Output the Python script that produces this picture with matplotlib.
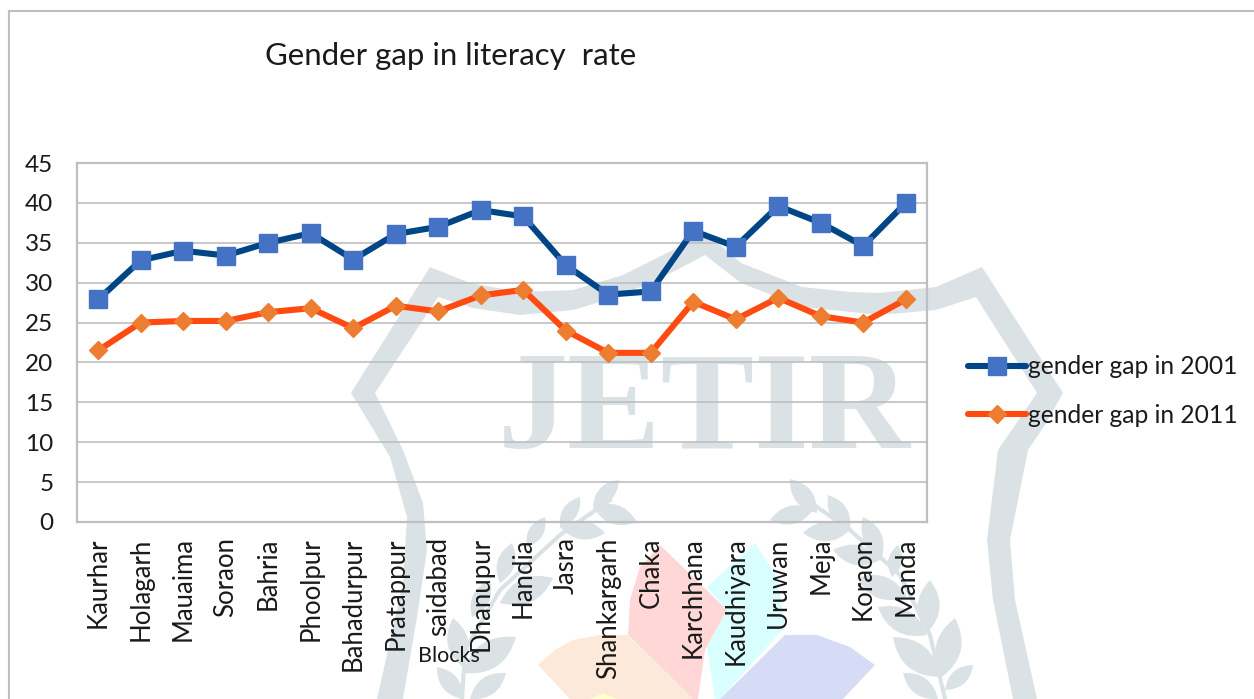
import matplotlib
matplotlib.use("Agg")
import matplotlib.pyplot as plt
from matplotlib.patches import Polygon, PathPatch
from matplotlib.path import Path as MPath

plt.rcParams["font.family"] = ["Lato", "DejaVu Sans"]

blocks = ["Kaurhar", "Holagarh", "Mauaima", "Soraon", "Bahria", "Phoolpur", "Bahadurpur",
          "Pratappur", "saidabad", "Dhanupur", "Handia", "Jasra", "Shankargarh", "Chaka",
          "Karchhana", "Kaudhiyara", "Uruwan", "Meja", "Koraon", "Manda"]
gap_2001 = [27.9, 32.8, 34.0, 33.4, 35.0, 36.2, 32.9, 36.1, 37.0, 39.1,
            38.3, 32.2, 28.5, 28.9, 36.5, 34.5, 39.6, 37.5, 34.6, 40.0]
gap_2011 = [21.5, 25.0, 25.2, 25.2, 26.3, 26.8, 24.3, 27.1, 26.4, 28.4,
            29.1, 24.0, 21.2, 21.2, 27.6, 25.4, 28.1, 25.8, 25.0, 27.9]
y_ticks = [0, 5, 10, 15, 20, 25, 30, 35, 40, 45]

W, H = 1254, 699
MARK = "#dbe2e6"
GRID = "#bfbfbf"
TEXT = "#1a1a1a"

fig = plt.figure(figsize=(W / 100, H / 100), dpi=100, facecolor="white")


def px_axes(x0, y0, x1, y1, **kw):
    return fig.add_axes([x0 / W, 1 - y1 / H, (x1 - x0) / W, (y1 - y0) / H], **kw)


# watermark and outer frame, drawn in pixel coordinates
bg = px_axes(0, 0, W, H, zorder=0)
bg.set_xlim(0, W)
bg.set_ylim(H, 0)
bg.axis("off")

shield = [(377, 699), (403, 583), (407, 517), (390, 457), (351, 393), (430, 267), (470, 283), (520, 292),
          (573, 290), (623, 275), (673, 250), (705, 232), (741, 263), (802, 287), (850, 292), (879, 293), (936, 287),
          (982, 267), (1063, 393), (1045, 425), (1028, 450), (1010, 540), (1015, 600), (1037, 699),
          (1013, 699), (993, 600), (987, 540), (998, 450), (1037, 393), (976, 297), (936, 310), (879, 315),
          (802, 307), (741, 283), (705, 255), (673, 272), (623, 295), (573, 310), (520, 315), (473, 308),
          (438, 297), (375, 393), (403, 450), (423, 503), (427, 550), (417, 617), (403, 699)]
bg.add_patch(Polygon(shield, closed=True, facecolor=MARK, edgecolor="none"))
bg.text(704, 448, "JETIR", family="Liberation Serif", fontweight="bold", fontsize=101,
        color=MARK, ha="center", va="baseline")


def leaf(tip, base, width=0.42):
    dx, dy = base[0] - tip[0], base[1] - tip[1]
    mx, my = (tip[0] + base[0]) / 2, (tip[1] + base[1]) / 2
    c1 = (mx - dy * width, my + dx * width)
    c2 = (mx + dy * width, my - dx * width)
    codes = [MPath.MOVETO, MPath.CURVE3, MPath.CURVE3, MPath.CURVE3, MPath.CURVE3]
    bg.add_patch(PathPatch(MPath([tip, c1, base, c2, tip], codes), facecolor=MARK, edgecolor="none"))


left_leaves = [((619, 480), (593, 507)), ((637, 522), (593, 507)), ((580, 497), (560, 527)), ((605, 533), (560, 527)),
               ((545, 517), (527, 547)), ((512, 543), (500, 583)), ((553, 578), (500, 603)), ((490, 580), (472, 617)),
               ((516, 637), (463, 673)), ((453, 618), (463, 667)), ((506, 673), (470, 699)), ((437, 667), (463, 699))]
right_leaves = [((790, 479), (817, 513)), ((770, 520), (813, 510)), ((828, 495), (850, 530)), ((803, 533), (850, 530)),
                ((863, 517), (882, 557)), ((833, 550), (880, 560)), ((898, 545), (892, 577)), ((857, 578), (907, 597)),
                ((930, 580), (927, 633)), ((878, 607), (927, 635)), ((955, 618), (942, 677)), ((893, 637), (940, 677)),
                ((973, 665), (945, 690)), ((903, 673), (938, 699))]
for tip, base in left_leaves + right_leaves:
    leaf(tip, base)
bg.plot([610, 560, 500, 465, 462], [500, 535, 590, 650, 699], color=MARK, lw=3)
bg.plot([800, 850, 900, 930, 945], [495, 530, 575, 635, 699], color=MARK, lw=3)

petal_peach = [(538, 665), (555, 650), (573, 640), (600, 635), (627, 635), (693, 699), (570, 699)]
petal_pink = [(660, 545), (727, 610), (705, 650), (698, 699), (693, 699), (628, 635), (630, 600), (640, 567)]
petal_cyan = [(755, 543), (777, 577), (785, 627), (720, 699), (715, 699), (707, 647), (727, 610), (707, 587)]
petal_blue = [(785, 635), (817, 635), (850, 647), (875, 665), (843, 699), (720, 699)]
petal_yellow = [(603, 693), (590, 699), (617, 699)]
for pts, col in [(petal_peach, "#fde9d9"), (petal_pink, "#ffd7d7"), (petal_cyan, "#d9ffff"),
                 (petal_blue, "#d6dcf5"), (petal_yellow, "#ffffcc")]:
    bg.add_patch(Polygon(pts, closed=True, facecolor=col, edgecolor="none"))

# frame around the pasted chart
bg.plot([8.5, 8.5], [699, 10.5], color=GRID, lw=1.5)
bg.plot([8.5, 1254], [10.5, 10.5], color=GRID, lw=1.5)

ax = px_axes(77, 163, 927, 522, zorder=2)
ax.patch.set_alpha(0)
x = list(range(len(blocks)))
ax.plot(x, gap_2001, color="#004586", lw=4.4, marker="s", ms=12.7, mfc="#4472c4", mec="#4472c4",
        solid_capstyle="round", label="gender gap in 2001")
ax.plot(x, gap_2011, color="#ff4a12", lw=4.4, marker="D", ms=9, mfc="#ed7d31", mec="#ed7d31",
        solid_capstyle="round", label="gender gap in 2011")
ax.set_xlim(-0.5, len(blocks) - 0.5)
ax.set_ylim(0, 45)
ax.set_yticks(y_ticks)
ax.set_xticks(x, blocks, rotation=90, fontsize=18.5, color=TEXT)
ax.tick_params(axis="y", labelsize=17.5, labelcolor=TEXT, length=0, pad=17)
ax.tick_params(axis="x", length=0, pad=11)
ax.grid(axis="y", color=GRID, lw=1.2)
ax.set_axisbelow(True)
for s in ax.spines.values():
    s.set_color(GRID)
    s.set_linewidth(1.6)

fig.text(265 / W, 1 - 56 / H, "Gender gap in literacy  rate", fontsize=22.4, color=TEXT, ha="left", va="center")
fig.text(449 / W, 1 - 656 / H, "Blocks", fontsize=15.5, color=TEXT, ha="center", va="center")
ax.legend(loc="center left", bbox_to_anchor=((968 - 77) / 850, (522 - 391) / 359), frameon=False,
          fontsize=17.7, labelcolor=TEXT, handlelength=2.36, handletextpad=0.08, labelspacing=1.04, borderpad=0,
          borderaxespad=0)

fig.savefig("out.png", dpi=100)
